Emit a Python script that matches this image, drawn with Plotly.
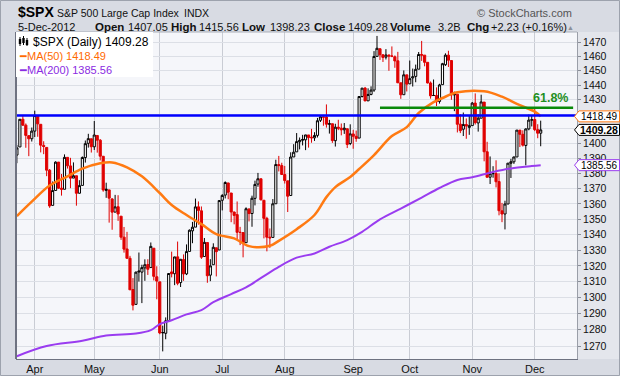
import math
import plotly.graph_objects as go

# ---------------- data ----------------
dates = [
    "2012-03-23", "2012-03-26", "2012-03-27", "2012-03-28", "2012-03-29", "2012-03-30",
    "2012-04-02", "2012-04-03", "2012-04-04", "2012-04-05", "2012-04-09", "2012-04-10", "2012-04-11",
    "2012-04-12", "2012-04-13", "2012-04-16", "2012-04-17", "2012-04-18", "2012-04-19", "2012-04-20",
    "2012-04-23", "2012-04-24", "2012-04-25", "2012-04-26", "2012-04-27", "2012-04-30",
    "2012-05-01", "2012-05-02", "2012-05-03", "2012-05-04", "2012-05-07", "2012-05-08", "2012-05-09",
    "2012-05-10", "2012-05-11", "2012-05-14", "2012-05-15", "2012-05-16", "2012-05-17", "2012-05-18",
    "2012-05-21", "2012-05-22", "2012-05-23", "2012-05-24", "2012-05-25", "2012-05-29", "2012-05-30",
    "2012-05-31",
    "2012-06-01", "2012-06-04", "2012-06-05", "2012-06-06", "2012-06-07", "2012-06-08", "2012-06-11",
    "2012-06-12", "2012-06-13", "2012-06-14", "2012-06-15", "2012-06-18", "2012-06-19", "2012-06-20",
    "2012-06-21", "2012-06-22", "2012-06-25", "2012-06-26", "2012-06-27", "2012-06-28", "2012-06-29",
    "2012-07-02", "2012-07-03", "2012-07-05", "2012-07-06", "2012-07-09", "2012-07-10", "2012-07-11",
    "2012-07-12", "2012-07-13", "2012-07-16", "2012-07-17", "2012-07-18", "2012-07-19", "2012-07-20",
    "2012-07-23", "2012-07-24", "2012-07-25", "2012-07-26", "2012-07-27", "2012-07-30", "2012-07-31",
    "2012-08-01", "2012-08-02", "2012-08-03", "2012-08-06", "2012-08-07", "2012-08-08", "2012-08-09",
    "2012-08-10", "2012-08-13", "2012-08-14", "2012-08-15", "2012-08-16", "2012-08-17", "2012-08-20",
    "2012-08-21", "2012-08-22", "2012-08-23", "2012-08-24", "2012-08-27", "2012-08-28", "2012-08-29",
    "2012-08-30", "2012-08-31",
    "2012-09-04", "2012-09-05", "2012-09-06", "2012-09-07", "2012-09-10", "2012-09-11", "2012-09-12",
    "2012-09-13", "2012-09-14", "2012-09-17", "2012-09-18", "2012-09-19", "2012-09-20", "2012-09-21",
    "2012-09-24", "2012-09-25", "2012-09-26", "2012-09-27", "2012-09-28",
    "2012-10-01", "2012-10-02", "2012-10-03", "2012-10-04", "2012-10-05", "2012-10-08", "2012-10-09",
    "2012-10-10", "2012-10-11", "2012-10-12", "2012-10-15", "2012-10-16", "2012-10-17", "2012-10-18",
    "2012-10-19", "2012-10-22", "2012-10-23", "2012-10-24", "2012-10-25", "2012-10-26", "2012-10-31",
    "2012-11-01", "2012-11-02", "2012-11-05", "2012-11-06", "2012-11-07", "2012-11-08", "2012-11-09",
    "2012-11-12", "2012-11-13", "2012-11-14", "2012-11-15", "2012-11-16", "2012-11-19", "2012-11-20",
    "2012-11-21", "2012-11-23", "2012-11-26", "2012-11-27", "2012-11-28", "2012-11-29", "2012-11-30",
    "2012-12-03", "2012-12-04", "2012-12-05",
]

opens = [
    1392.32, 1397.77, 1416.55, 1412.52, 1405.39, 1403.31,
    1408.47, 1418.98, 1413.09, 1398.79, 1397.45, 1382.18, 1358.98, 1368.77, 1387.61, 1370.27,
    1369.57, 1390.78, 1385.08, 1376.96, 1378.53, 1366.97, 1372.11, 1390.64, 1400.19, 1403.26,
    1397.86, 1405.50, 1402.32, 1391.51, 1368.79, 1369.16, 1363.20, 1354.58, 1358.11, 1351.93,
    1338.36, 1330.78, 1324.82, 1305.05, 1295.73, 1316.09, 1316.02, 1318.72, 1320.81, 1318.90,
    1331.25, 1313.09,
    1309.87, 1278.29, 1277.82, 1285.61, 1316.15, 1314.99, 1325.72, 1309.40, 1324.02, 1314.88,
    1329.19, 1342.42, 1344.83, 1358.04, 1355.43, 1325.92, 1334.90, 1314.09, 1320.71, 1331.52, 1330.12,
    1362.33, 1365.75, 1373.72, 1367.09, 1354.66, 1352.96, 1341.40, 1341.29, 1334.81, 1356.50,
    1353.68, 1363.58, 1373.01, 1376.51, 1362.34, 1350.52, 1338.35, 1338.17, 1360.05, 1385.94, 1385.27,
    1379.32, 1375.13, 1365.45, 1391.04, 1394.46, 1401.23, 1402.26, 1402.58, 1405.87, 1404.36,
    1403.89, 1405.57, 1415.84, 1417.85, 1418.13, 1413.09, 1413.49, 1401.99, 1411.13, 1410.44,
    1409.32, 1410.08, 1400.07,
    1406.54, 1404.94, 1403.74, 1432.12, 1437.92, 1429.13, 1433.56, 1436.56, 1460.07, 1465.42,
    1461.19, 1459.50, 1461.05, 1460.34, 1459.76, 1456.94, 1441.60, 1433.36, 1447.13,
    1440.90, 1444.99, 1446.05, 1451.08, 1461.40, 1460.93, 1455.90, 1441.48, 1432.82, 1432.84,
    1428.75, 1440.31, 1454.22, 1460.94, 1457.15, 1433.21, 1433.74, 1413.20, 1409.74, 1412.97, 1410.99,
    1412.20, 1427.59, 1414.02, 1417.26, 1428.27, 1394.53, 1377.55, 1379.86, 1380.03, 1374.64,
    1355.41, 1353.36, 1359.88, 1386.82, 1387.79, 1391.03, 1409.15, 1406.29, 1398.77, 1409.96, 1415.95,
    1416.34, 1409.46, 1407.05,
]

highs = [
    1399.18, 1416.58, 1419.15, 1413.65, 1405.54, 1410.89,
    1422.38, 1419.00, 1413.09, 1401.60, 1397.45, 1383.01, 1374.71, 1388.13, 1387.61, 1379.66,
    1392.76, 1390.78, 1390.46, 1387.40, 1378.53, 1375.57, 1391.37, 1402.09, 1406.64, 1403.26,
    1415.32, 1405.50, 1403.07, 1391.51, 1373.91, 1369.16, 1363.73, 1365.88, 1365.66, 1351.93,
    1344.94, 1341.78, 1326.36, 1312.24, 1316.39, 1328.49, 1320.71, 1324.14, 1324.20, 1334.93,
    1331.25, 1319.74,
    1309.87, 1282.55, 1287.62, 1315.13, 1329.05, 1325.81, 1335.52, 1324.31, 1327.28, 1333.68,
    1343.32, 1348.22, 1363.46, 1361.57, 1358.27, 1337.82, 1334.90, 1324.24, 1334.40, 1331.52, 1362.17,
    1366.35, 1374.81, 1373.85, 1367.09, 1354.87, 1361.54, 1345.00, 1341.29, 1357.70, 1357.26,
    1365.36, 1375.26, 1380.39, 1376.51, 1362.34, 1351.53, 1343.98, 1363.13, 1389.19, 1391.74, 1387.16,
    1385.03, 1375.13, 1394.16, 1399.63, 1407.14, 1404.14, 1405.95, 1405.98, 1405.87, 1410.03,
    1407.73, 1417.44, 1418.71, 1418.13, 1426.68, 1416.12, 1413.49, 1413.46, 1416.17, 1413.63,
    1413.95, 1410.08, 1413.09,
    1409.31, 1408.81, 1432.12, 1437.92, 1438.74, 1437.76, 1439.15, 1463.76, 1474.51, 1465.63,
    1461.47, 1465.15, 1461.23, 1467.07, 1460.72, 1463.24, 1441.60, 1450.20, 1447.13,
    1457.14, 1451.52, 1454.30, 1463.14, 1470.96, 1460.93, 1455.90, 1442.52, 1443.90, 1438.43,
    1440.92, 1455.51, 1462.20, 1464.02, 1457.15, 1435.46, 1433.74, 1420.04, 1421.12, 1417.09, 1418.76,
    1428.35, 1434.27, 1419.90, 1433.38, 1428.27, 1401.23, 1391.39, 1384.87, 1388.81, 1380.13,
    1360.62, 1362.03, 1386.89, 1389.77, 1391.25, 1409.16, 1409.15, 1409.01, 1410.31, 1419.70, 1418.86,
    1423.73, 1413.14, 1415.56,
]

lows = [
    1386.87, 1397.77, 1411.95, 1397.20, 1391.56, 1401.42,
    1404.46, 1404.62, 1394.09, 1392.92, 1378.24, 1357.38, 1358.98, 1368.77, 1369.85, 1365.38,
    1369.57, 1383.29, 1370.30, 1376.96, 1358.79, 1366.82, 1372.11, 1387.28, 1397.31, 1394.00,
    1395.73, 1393.92, 1388.71, 1367.96, 1363.94, 1347.75, 1343.13, 1354.58, 1348.89, 1336.61,
    1328.41, 1324.79, 1304.86, 1291.98, 1295.73, 1310.04, 1296.53, 1310.50, 1314.23, 1318.90,
    1310.76, 1298.90,
    1277.25, 1266.74, 1274.16, 1285.61, 1312.68, 1307.77, 1307.73, 1306.62, 1310.51, 1314.14,
    1329.19, 1334.46, 1344.83, 1346.45, 1324.41, 1325.92, 1309.27, 1310.30, 1320.71, 1313.29, 1330.12,
    1355.70, 1363.53, 1363.02, 1348.03, 1346.65, 1336.27, 1333.25, 1325.41, 1334.81, 1348.51,
    1345.07, 1358.96, 1371.21, 1362.19, 1337.56, 1329.24, 1331.50, 1338.17, 1360.05, 1381.37, 1379.17,
    1373.35, 1354.65, 1365.45, 1391.04, 1394.46, 1396.13, 1398.80, 1395.62, 1397.32, 1400.60,
    1401.83, 1404.15, 1414.67, 1412.12, 1410.86, 1406.78, 1400.50, 1398.04, 1409.11, 1405.59,
    1406.57, 1397.01, 1398.96,
    1396.56, 1401.25, 1403.74, 1431.45, 1428.98, 1429.13, 1432.99, 1435.34, 1460.07, 1457.55,
    1456.13, 1457.88, 1449.98, 1459.51, 1452.06, 1441.59, 1430.53, 1433.36, 1435.60,
    1440.90, 1439.01, 1441.99, 1451.08, 1456.89, 1453.10, 1441.18, 1430.64, 1432.82, 1425.53,
    1427.24, 1440.31, 1453.35, 1452.63, 1429.85, 1422.06, 1407.56, 1407.10, 1405.14, 1403.28, 1405.95,
    1412.20, 1412.91, 1408.13, 1417.26, 1388.14, 1377.51, 1373.03, 1377.19, 1370.78, 1352.50,
    1348.05, 1343.35, 1359.88, 1377.04, 1386.39, 1391.03, 1397.68, 1398.03, 1385.43, 1409.04, 1411.63,
    1408.46, 1403.65, 1398.23,
]

closes = [
    1397.11, 1416.51, 1412.52, 1405.54, 1403.28, 1408.47,
    1419.04, 1413.38, 1398.96, 1398.08, 1382.20, 1358.59, 1368.71, 1387.57, 1370.26, 1369.57,
    1390.78, 1385.14, 1376.92, 1378.53, 1366.94, 1371.97, 1390.69, 1399.98, 1403.36, 1397.91,
    1405.82, 1402.31, 1391.57, 1369.10, 1369.58, 1363.72, 1354.58, 1357.99, 1353.39, 1338.35,
    1330.66, 1324.80, 1304.86, 1295.22, 1315.99, 1316.63, 1318.86, 1320.68, 1317.82, 1332.42,
    1313.32, 1310.33,
    1278.04, 1278.18, 1285.50, 1315.13, 1314.99, 1325.66, 1308.93, 1324.18, 1314.88, 1329.10,
    1342.84, 1344.78, 1357.98, 1355.69, 1325.51, 1335.02, 1313.72, 1319.99, 1331.85, 1329.04, 1362.16,
    1365.51, 1374.02, 1367.58, 1354.68, 1352.46, 1341.47, 1341.45, 1334.76, 1356.78, 1353.64,
    1363.67, 1372.78, 1376.51, 1362.66, 1350.52, 1338.31, 1337.89, 1360.02, 1385.97, 1385.30, 1379.32,
    1375.32, 1365.00, 1390.99, 1394.23, 1401.35, 1402.22, 1402.80, 1405.87, 1404.11, 1403.93,
    1405.53, 1415.51, 1418.16, 1418.13, 1413.17, 1413.49, 1402.08, 1411.13, 1410.44, 1409.30,
    1410.49, 1399.48, 1406.58,
    1404.94, 1403.44, 1432.12, 1437.92, 1429.08, 1433.56, 1436.56, 1459.99, 1465.77, 1461.19,
    1459.32, 1461.05, 1460.26, 1460.15, 1456.89, 1441.59, 1433.32, 1447.15, 1440.67,
    1444.49, 1445.75, 1450.99, 1461.40, 1460.93, 1455.88, 1441.48, 1432.56, 1432.84, 1428.59,
    1440.13, 1454.92, 1460.91, 1457.34, 1433.19, 1433.82, 1413.11, 1408.75, 1412.97, 1411.94, 1412.16,
    1427.59, 1414.20, 1417.26, 1428.39, 1394.53, 1377.51, 1379.85, 1380.03, 1374.53, 1355.49,
    1353.33, 1359.88, 1386.89, 1387.81, 1391.03, 1409.15, 1406.29, 1398.94, 1409.93, 1415.95, 1416.18,
    1409.46, 1407.05, 1409.28,
]
prev_close_before_start = 1392.78

ma50_dates = [
    "2012-03-23", "2012-03-30", "2012-04-10", "2012-04-18", "2012-04-25", "2012-05-03",
    "2012-05-09", "2012-05-16", "2012-05-23", "2012-06-01", "2012-06-07", "2012-06-14",
    "2012-06-21", "2012-06-28", "2012-07-09", "2012-07-16", "2012-07-25", "2012-07-30",
    "2012-08-07", "2012-08-15", "2012-08-21", "2012-08-24", "2012-08-31", "2012-09-06",
    "2012-09-13", "2012-09-21", "2012-09-28", "2012-10-04", "2012-10-11", "2012-10-16",
    "2012-10-23", "2012-11-07", "2012-11-15", "2012-11-23", "2012-12-03", "2012-12-05",
]
ma50_values = [
    1352.0, 1361.4, 1372.0, 1378.1, 1383.2, 1386.8,
    1387.4, 1384.1, 1378.1, 1367.1, 1359.2, 1352.7,
    1346.8, 1340.3, 1337.6, 1332.6, 1332.8, 1336.0,
    1343.5, 1352.7, 1364.4, 1371.0, 1377.7, 1383.0,
    1392.3, 1405.1, 1411.2, 1420.8, 1428.3, 1431.1,
    1435.0, 1435.7, 1432.0, 1427.0, 1421.7, 1418.49,
]

ma200_dates = [
    "2012-03-23", "2012-04-09", "2012-04-25", "2012-05-07", "2012-05-21", "2012-05-29",
    "2012-06-01", "2012-06-07", "2012-06-14", "2012-06-21", "2012-06-27", "2012-07-06",
    "2012-07-13", "2012-07-23", "2012-07-30", "2012-08-07", "2012-08-15", "2012-08-22",
    "2012-08-30", "2012-09-07", "2012-09-17", "2012-09-26", "2012-10-05", "2012-10-15",
    "2012-10-23", "2012-11-01", "2012-11-12", "2012-11-20", "2012-11-30", "2012-12-05",
]
ma200_values = [
    1263.8, 1270.0, 1273.2, 1276.5, 1277.7, 1279.8,
    1283.5, 1285.9, 1289.5, 1292.2, 1297.1, 1302.2,
    1306.4, 1313.5, 1319.4, 1325.2, 1327.9, 1332.2,
    1336.5, 1341.8, 1349.9, 1356.9, 1364.1, 1370.4,
    1375.7, 1377.5, 1381.0, 1383.4, 1385.0, 1385.56,
]

month_labels = ["Apr", "May", "Jun", "Jul", "Aug", "Sep", "Oct", "Nov", "Dec"]
month_first_days = ["2012-04-02", "2012-05-01", "2012-06-01", "2012-07-02", "2012-08-01",
                    "2012-09-04", "2012-10-01", "2012-11-01", "2012-12-03"]
price_ticks = [1270, 1280, 1290, 1300, 1310, 1320, 1330, 1340, 1350, 1360, 1370,
               1380, 1390, 1400, 1410, 1420, 1430, 1440, 1450, 1460, 1470]

resistance_date = "2012-04-02"      # blue horizontal line at this close
fib_swing_high_date = "2012-09-14"
fib_swing_low_date = "2012-11-16"
fib_ratio = 0.618
fib_line_start = "2012-09-17"
volume_text = "3.2B"

# ---------------- geometry / styles ----------------
W, H = 620, 376
ML, MR, MT, MB = 16, 43, 32, 17
PW, PH = W - ML - MR, H - MT - MB
Y_LO, Y_HI = 1262.1, 1477.3
X_LO, X_HI = -0.3, 188.2
FONT = "Liberation Sans, Arial, sans-serif"
RED = "#e00000"
BLACK = "#000000"
ORANGE = "#ff7a12"
PURPLE = "#9a3cf0"


def px(x):
    return (x - ML) / PW


def py(y):
    return (H - MB - y) / PH


def pyv(price):
    return (math.log10(price) - math.log10(Y_LO)) / (math.log10(Y_HI) - math.log10(Y_LO))


n = len(dates)
pos = {d: i for i, d in enumerate(dates)}
prev = [prev_close_before_start] + closes[:-1]
up_ids = [i for i in range(n) if closes[i] >= prev[i]]
dn_ids = [i for i in range(n) if closes[i] < prev[i]]


def candles(ids, color):
    return go.Candlestick(
        x=ids,
        open=[opens[i] for i in ids], high=[highs[i] for i in ids],
        low=[lows[i] for i in ids], close=[closes[i] for i in ids],
        increasing=dict(line=dict(color=color, width=1), fillcolor="#ffffff"),
        decreasing=dict(line=dict(color=color, width=1), fillcolor=color),
        whiskerwidth=0, showlegend=False, hoverinfo="skip",
    )


fig = go.Figure()
fig.add_trace(candles(up_ids, BLACK))
fig.add_trace(candles(dn_ids, RED))
fig.add_trace(go.Scatter(x=[pos[d] for d in ma200_dates], y=ma200_values, mode="lines",
                         line=dict(color=PURPLE, width=2, shape="spline"), showlegend=False,
                         hoverinfo="skip"))
fig.add_trace(go.Scatter(x=[pos[d] for d in ma50_dates], y=ma50_values, mode="lines",
                         line=dict(color=ORANGE, width=2.5, shape="spline"), showlegend=False,
                         hoverinfo="skip"))

resistance = closes[pos[resistance_date]]
fig.add_trace(go.Scatter(x=[X_LO, X_HI], y=[resistance, resistance], mode="lines",
                         line=dict(color="#0000ff", width=2.5), showlegend=False, hoverinfo="skip"))

swing_high = highs[pos[fib_swing_high_date]]
swing_low = lows[pos[fib_swing_low_date]]
fib_level = swing_low + fib_ratio * (swing_high - swing_low)
fib_end = n - 1 + 10.9
fig.add_trace(go.Scatter(x=[pos[fib_line_start], fib_end], y=[fib_level, fib_level], mode="lines",
                         line=dict(color="#0a8a0a", width=2.5), showlegend=False, hoverinfo="skip"))

shapes = []
annotations = []

# right axis panel and frame
shapes.append(dict(type="rect", xref="paper", yref="paper", x0=px(577), x1=px(620), y0=py(359),
                   y1=py(MT), fillcolor="#e4e6ec", line=dict(width=0), layer="below"))
shapes.append(dict(type="line", xref="paper", yref="paper", x0=0, x1=0, y0=0, y1=1,
                   line=dict(color="#6e7281", width=2)))
shapes.append(dict(type="line", xref="paper", yref="paper", x0=0, x1=1, y0=1, y1=1,
                   line=dict(color="#a9adb7", width=1)))
shapes.append(dict(type="rect", xref="paper", yref="paper", x0=px(0.5), x1=px(619.5),
                   y0=py(375.5), y1=py(0.5), line=dict(color="#9da2ad", width=1)))

# legend box
shapes.append(dict(type="rect", xref="paper", yref="paper", x0=px(16), x1=px(153), y0=py(77),
                   y1=py(MT), fillcolor="#ffffff", line=dict(width=0), layer="above"))

last_close = closes[-1]
last_ma50 = ma50_values[-1]
last_ma200 = ma200_values[-1]

annotations.append(dict(xref="paper", yref="paper", x=px(31), y=py(41.5), xanchor="left",
                        yanchor="middle", showarrow=False,
                        text=f"$SPX (Daily) {last_close:.2f}",
                        font=dict(family=FONT, size=12, color="#000")))
annotations.append(dict(xref="paper", yref="paper", x=px(17), y=py(56), xanchor="left",
                        yanchor="middle", showarrow=False,
                        text=f"━MA(50) {last_ma50:.2f}",
                        font=dict(family=FONT, size=11, color="#ff6a00")))
annotations.append(dict(xref="paper", yref="paper", x=px(17), y=py(70), xanchor="left",
                        yanchor="middle", showarrow=False,
                        text=f"━MA(200) {last_ma200:.2f}",
                        font=dict(family=FONT, size=11, color="#8a2be2")))
# small candlestick icon
for cx, c0, c1, w0, w1 in [(20, 39, 44, 37, 46), (23.5, 38, 43, 36, 45), (27, 40, 45, 38, 46)]:
    shapes.append(dict(type="line", xref="paper", yref="paper", x0=px(cx), x1=px(cx),
                       y0=py(w0), y1=py(w1), line=dict(color="#000", width=1)))
    shapes.append(dict(type="rect", xref="paper", yref="paper", x0=px(cx - 1.2), x1=px(cx + 1.2),
                       y0=py(c0), y1=py(c1), fillcolor="#000", line=dict(width=0)))

# header
hdr = [
    (15.5, 12, "<b>$SPX</b>", 14, "#000"),
    (55, 12.5, "S&P 500 Large Cap Index", 10.5, "#111"),
    (182, 12.5, "INDX", 10.5, "#111"),
    (15.5, 27, "5-Dec-2012", 11, "#111"),
    (93, 27, "<b>Open</b>", 11.5, "#111"),
    (126, 27, f"{opens[-1]:.2f}", 11, "#111"),
    (169, 27, "<b>High</b>", 11.5, "#111"),
    (197, 27, f"{highs[-1]:.2f}", 11, "#111"),
    (240, 27, "<b>Low</b>", 11.5, "#111"),
    (268, 27, f"{lows[-1]:.2f}", 11, "#111"),
    (312, 27, "<b>Close</b>", 11.5, "#111"),
    (346, 27, f"{closes[-1]:.2f}", 11, "#111"),
    (388, 27, "<b>Volume</b>", 11.5, "#111"),
    (436, 27, volume_text, 11, "#111"),
    (465, 27, "<b>Chg</b>", 11.5, "#111"),
]
chg = closes[-1] - closes[-2]
chg_pct = chg / closes[-2] * 100
hdr.append((489, 27, f"{chg:+.2f} ({chg_pct:+.2f}%)", 11, "#111"))
for x, y, t, s, c in hdr:
    annotations.append(dict(xref="paper", yref="paper", x=px(x), y=py(y), xanchor="left",
                            yanchor="middle", showarrow=False, text=t,
                            font=dict(family=FONT, size=s, color=c)))
annotations.append(dict(xref="paper", yref="paper", x=px(570), y=py(27), xanchor="center",
                        yanchor="middle", showarrow=False, text="▲",
                        font=dict(family=FONT, size=7, color="#8a8f99")))
annotations.append(dict(xref="paper", yref="paper", x=px(574), y=py(12.5), xanchor="right",
                        yanchor="middle", showarrow=False, text="© StockCharts.com",
                        font=dict(family=FONT, size=11, color="#555")))

# 61.8% label
annotations.append(dict(xref="x", yref="y", x=n - 1 + 3.2, y=math.log10(fib_level), yshift=10,
                        xanchor="center", yanchor="middle", showarrow=False,
                        text=f"<b>{fib_ratio * 100:.1f}%</b>",
                        font=dict(family=FONT, size=12.5, color="#1f8f1f")))

# right-axis price tags (they cover the tick labels behind them, as in the original)
tag_prices = [last_ma50, last_close, last_ma200]
tag_half_px = 5.5
for price, color, bold in [(last_ma50, "#ff7a12", False), (last_close, "#000000", True),
                           (last_ma200, "#9a3cf0", False)]:
    yc = pyv(price)
    h = tag_half_px / PH
    xt, xl, xr = px(574.5), px(579), px(619.5)
    shapes.append(dict(type="path", xref="paper", yref="paper",
                       path=f"M {xt},{yc} L {xl},{yc + h} L {xr},{yc + h} L {xr},{yc - h} "
                            f"L {xl},{yc - h} Z",
                       fillcolor="#ffffff", line=dict(color=color, width=1), layer="above"))
    txt = f"<b>{price:.2f}</b>" if bold else f"{price:.2f}"
    annotations.append(dict(xref="paper", yref="paper", x=px(599), y=yc, xanchor="center",
                            yanchor="middle", showarrow=False, text=txt,
                            font=dict(family=FONT, size=10 if not bold else 10.5, color="#000")))

# tick labels fully hidden behind a tag are left blank (gridlines stay)
tick_text = []
for v in price_ticks:
    hidden = any(abs(pyv(v) - pyv(p)) * PH < 4 for p in tag_prices)
    tick_text.append("" if hidden else str(v))

fig.update_layout(
    width=W, height=H,
    margin=dict(l=ML, r=MR, t=MT, b=MB, pad=0, autoexpand=False),
    paper_bgcolor="#d8dbe3",
    plot_bgcolor="#f5f6fa",
    showlegend=False,
    boxgap=0.15,
    boxgroupgap=0.15,
    shapes=shapes,
    annotations=annotations,
    xaxis=dict(
        range=[X_LO, X_HI],
        automargin=False,
        tickmode="array",
        tickvals=[pos[d] for d in month_first_days],
        ticktext=month_labels,
        showgrid=True, gridcolor="#c9ccd4", gridwidth=1,
        ticks="", showline=True, linecolor="#6e7281", linewidth=1,
        zeroline=False,
        tickfont=dict(family=FONT, size=11, color="#111"),
        rangeslider=dict(visible=False),
        fixedrange=True,
    ),
    yaxis=dict(
        type="log",
        automargin=False,
        range=[math.log10(Y_LO), math.log10(Y_HI)],
        side="right",
        tickmode="array",
        tickvals=price_ticks,
        ticktext=tick_text,
        showgrid=True, gridcolor="#dcdfe6", gridwidth=1,
        ticks="outside", ticklen=3, tickcolor="#8a8e98",
        showline=True, linecolor="#9a9ea8", linewidth=1,
        zeroline=False,
        tickfont=dict(family=FONT, size=10.5, color="#111"),
        fixedrange=True,
    ),
)

fig.write_html(
    "out.html",
    config={"displayModeBar": False},
    post_script="document.body.style.margin='0';document.body.style.overflow='hidden';",
)
